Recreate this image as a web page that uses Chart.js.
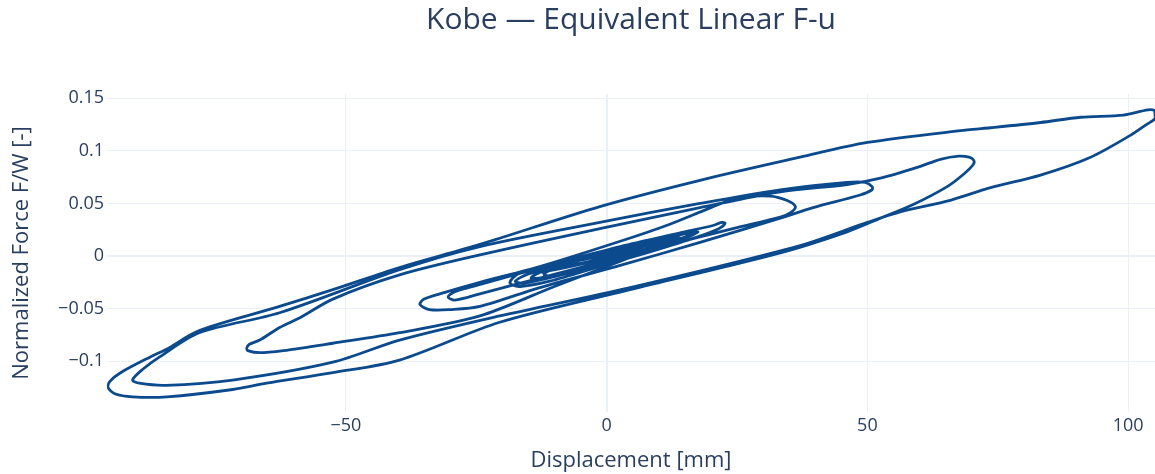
<!DOCTYPE html>
<html>
<head>
<meta charset="utf-8">
<script src="https://cdn.jsdelivr.net/npm/chart.js@4"></script>
<style>
  html, body { margin: 0; padding: 0; background: #ffffff; }
  #wrap { width: 1155px; height: 474px; }
</style>
</head>
<body>
<div id="wrap"><canvas id="fu" width="1155" height="474"></canvas></div>
<script>
// Force–displacement response, in time order: [displacement mm, F/W]
const startCycles = [
  [0,0],[6,0.010],[10,0.014],[11.5,0.014],[9,0.009],[0,-0.006],[-8,-0.016],[-11,-0.019],
  [-12,-0.017],[-9,-0.010],[0,0.004],[8,0.013],[13,0.018],[14,0.017],[11,0.011],[2,-0.004],
  [-7,-0.015],[-13,-0.021],[-14.5,-0.021],[-13,-0.016],[-5,-0.004],[5,0.009],[14,0.020],
  [16.5,0.022],[15,0.018],[6,0.004],[-4,-0.012],[-12,-0.022],[-16,-0.026],[-17.5,-0.024],
  [-15,-0.017],[-6,-0.005],[5,0.010],[14,0.021],[17.5,0.023]
];
const swingLeft1 = [
  [15,0.017],[10,0.009],[0,-0.010],[-10,-0.029],[-24.3,-0.057],[-39.7,-0.073],[-52.5,-0.083],
  [-62,-0.090],[-66.5,-0.092],[-68.8,-0.090],[-69,-0.0875]
];
const swingRight1 = [
  [-68.5,-0.084],[-66.5,-0.080],[-62.7,-0.068],[-58.9,-0.059],[-52.5,-0.041],[-39.7,-0.018],
  [-24.3,0.001],[-1.3,0.026],[17.9,0.046],[33.3,0.061],[46.1,0.068],[52.5,0.074],[60,0.085],
  [64,0.092],[67.5,0.095],[69.5,0.094],[70.4,0.091]
];
const swingLeft2 = [
  [70.3,0.087],[68.5,0.078],[65.3,0.066],[58.8,0.049],[52.5,0.036],[46.1,0.023],[33.3,0.003],
  [4.5,-0.032],[-20.5,-0.063],[-39.7,-0.099],[-52.5,-0.111],[-65.2,-0.121],[-71.7,-0.127],
  [-84.3,-0.134],[-90.9,-0.134],[-94.3,-0.131],[-95.6,-0.125]
];
const swingRight2 = [
  [-95.2,-0.119],[-93.2,-0.111],[-87.5,-0.096],[-84.5,-0.089],[-78.1,-0.071],[-62.7,-0.048],
  [-52.5,-0.032],[-39.7,-0.011],[-24.3,0.011],[-1.3,0.047],[17.9,0.072],[37.1,0.094],[50,0.108],
  [69.2,0.120],[73.6,0.122],[83.2,0.127],[90.9,0.132],[99.1,0.134],[103.8,0.139],[105.1,0.138]
];
const swingLeft3 = [
  [105.2,0.131],[103.5,0.125],[100.5,0.115],[92.8,0.094],[83.2,0.077],[73.6,0.065],[65.9,0.053],
  [56.3,0.042],[50,0.032],[37.1,0.010],[4.5,-0.030],[-20.5,-0.057],[-39.7,-0.080],[-52.5,-0.101],
  [-71.7,-0.118],[-84.5,-0.123],[-89.6,-0.121],[-90.9,-0.118]
];
const swingRight3 = [
  [-89,-0.108],[-85.7,-0.096],[-78.1,-0.073],[-62.7,-0.054],[-39.7,-0.013],[-24.3,0.009],
  [-1.3,0.032],[17.9,0.050],[33.3,0.063],[46.1,0.070],[49.6,0.070],[50.9,0.066]
];
const swingLeft4 = [
  [50.9,0.063],[48.6,0.058],[39.6,0.046],[33.3,0.036],[17.9,0.013],[2.6,-0.009],[-12.8,-0.030],
  [-24.3,-0.048],[-30,-0.051],[-34,-0.051],[-35.8,-0.046]
];
const swingRight4 = [
  [-35,-0.041],[-32,-0.036],[-24.3,-0.025],[-12.8,-0.010],[2.6,0.014],[12,0.030],[20,0.046],
  [25,0.055],[31.3,0.057],[34.5,0.053],[36.2,0.047]
];
const swingLeft5 = [
  [35.2,0.041],[33.3,0.037],[25,0.027],[15.4,0.015],[2.6,-0.001],[-12.8,-0.021],[-24.3,-0.036],
  [-29.1,-0.042],[-30.4,-0.039]
];
const swingRight5 = [
  [-29.1,-0.034],[-25.6,-0.029],[-19.1,-0.020],[-9,-0.006],[2.6,0.009],[14.1,0.022],[20.4,0.029],
  [22.1,0.032],[22.7,0.031]
];
const tailCycles = [
  [21.5,0.026],[17.3,0.018],[8.3,0.004],[-1.3,-0.010],[-10.9,-0.024],[-16.6,-0.029],[-18.5,-0.026],
  [-18,-0.021],[-16.6,-0.016],[-10.9,-0.010],[-1.3,0.003],[8.3,0.012],[12.2,0.015],
  [10.2,0.010],[-1.3,-0.004],[-10.9,-0.014],[-13.4,-0.016],
  [-11.3,-0.011],[-1.3,0],[8.3,0.010],[15.4,0.018],[12.2,0.011],[2.6,0.002],[-5,-0.007],[-8,-0.009],
  [-5,-0.004],[0,0.001],[5,0.006],[3,0.003],[0,0]
];

const xTicks = [-50, 0, 50, 100];
const yTicks = [-0.1, -0.05, 0, 0.05, 0.1, 0.15];
const xRange = [-95.8, 105.15];
const yRange = [-0.1484, 0.1541];

const path = [].concat(startCycles, swingLeft1, swingRight1, swingLeft2, swingRight2,
  swingLeft3, swingRight3, swingLeft4, swingRight4, swingLeft5, swingRight5, tailCycles)
  .map(p => ({ x: p[0], y: p[1] }));

const FONT = '"Open Sans", "DejaVu Sans", sans-serif';
const INK = '#2a3f5f';
const GRID = '#ebf0f8';
const minus = s => s.replace('-', '\u2212');

const titlePlugin = {
  id: 'plotTitle',
  afterDraw(chart) {
    const { ctx, chartArea } = chart;
    ctx.save();
    ctx.font = '30px ' + FONT;
    ctx.fillStyle = INK;
    ctx.textAlign = 'center';
    ctx.textBaseline = 'middle';
    ctx.fillText('Kobe \u2014 Equivalent Linear F-u', (chartArea.left + chartArea.right) / 2, 20);
    ctx.restore();
  }
};

new Chart(document.getElementById('fu'), {
  type: 'scatter',
  data: {
    datasets: [{
      data: path,
      showLine: true,
      borderColor: '#0b4a8c',
      borderWidth: 2.8,
      pointRadius: 0,
      tension: 0.3,
      fill: false
    }]
  },
  options: {
    responsive: false,
    animation: false,
    layout: { padding: { top: 94, right: 0, bottom: 0, left: 0 } },
    plugins: { legend: { display: false }, tooltip: { enabled: false }, title: { display: false } },
    scales: {
      x: {
        type: 'linear',
        min: xRange[0], max: xRange[1],
        afterBuildTicks: s => { s.ticks = xTicks.map(v => ({ value: v })); },
        afterFit: s => { s.height = 62; },
        border: { display: false },
        grid: {
          color: GRID,
          drawTicks: false,
          lineWidth: c => (c.tick && c.tick.value === 0 ? 2 : 1)
        },
        ticks: {
          padding: 3,
          color: INK,
          font: { family: FONT, size: 18 },
          maxRotation: 0,
          callback: v => minus(String(v))
        },
        title: {
          display: true,
          text: 'Displacement [mm]',
          color: INK,
          font: { family: FONT, size: 22 },
          padding: { top: 0, bottom: 0 }
        }
      },
      y: {
        type: 'linear',
        min: yRange[0], max: yRange[1],
        afterBuildTicks: s => { s.ticks = yTicks.map(v => ({ value: v })); },
        afterFit: s => { s.width = 107; },
        border: { display: false },
        grid: {
          color: GRID,
          drawTicks: false,
          lineWidth: c => (c.tick && c.tick.value === 0 ? 2 : 1)
        },
        ticks: {
          padding: 3,
          color: INK,
          font: { family: FONT, size: 18 },
          callback: v => minus(String(Math.round(v * 100) / 100))
        },
        title: {
          display: true,
          text: 'Normalized Force F/W [-]',
          color: INK,
          font: { family: FONT, size: 22 },
          padding: { top: 9, bottom: 0 }
        }
      }
    }
  },
  plugins: [titlePlugin]
});
</script>
</body>
</html>
